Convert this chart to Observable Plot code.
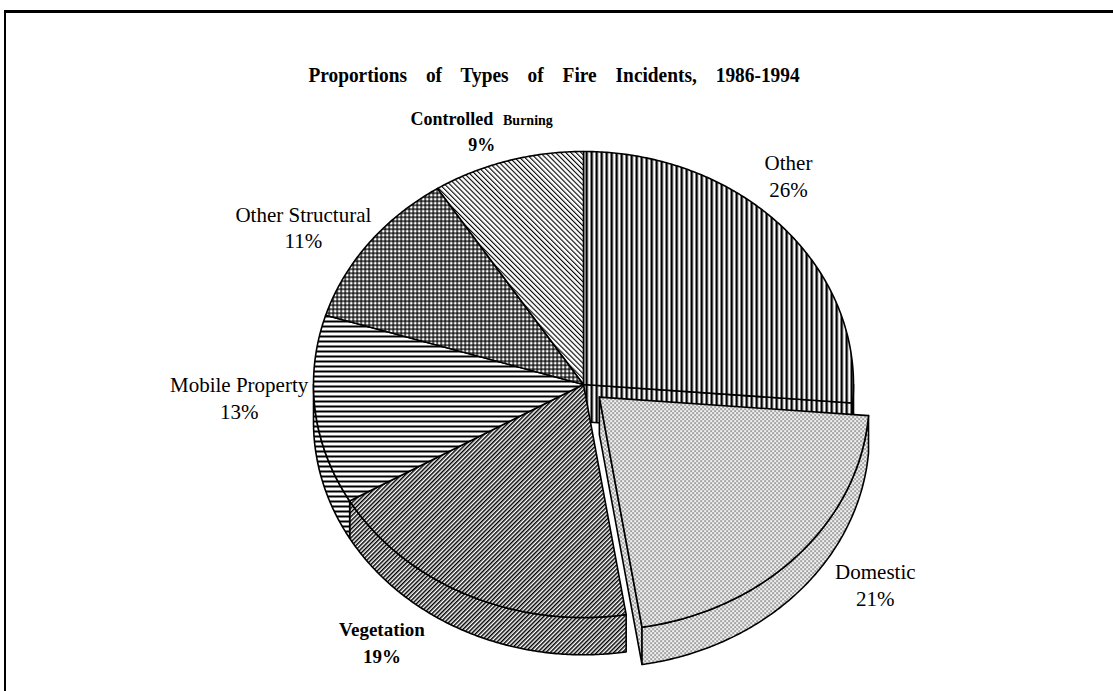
<!DOCTYPE html>
<html><head><meta charset="utf-8">
<script src="https://cdn.jsdelivr.net/npm/d3@7"></script>
<script src="https://cdn.jsdelivr.net/npm/@observablehq/plot@0.6"></script>
<style>
html,body{margin:0;padding:0;background:#fff;}
#wrap{position:relative;width:1113px;height:691px;overflow:hidden;}
#frame{position:absolute;left:4px;top:10px;right:-5px;bottom:-5px;border-top:3px solid #000;border-left:2px solid #000;}
#title{position:absolute;left:0;width:1108px;top:63px;text-align:center;font-family:"Liberation Serif",serif;font-weight:bold;font-size:22px;line-height:24px;word-spacing:16px;transform:scaleX(0.88);transform-origin:554px 0;white-space:nowrap;}
#chart{position:absolute;left:0;top:0;}
</style></head><body>
<div id="wrap"><div id="frame"></div><div id="title"></div><div id="chart"></div></div>
<script>
// ---- data ----
const title = "Proportions of Types of Fire Incidents, 1986-1994";
const categories = ["Other", "Domestic", "Vegetation", "Mobile Property", "Other Structural", "Controlled Burning"];
const percents = [26, 21, 19, 13, 11, 9];
const explodedCategories = ["Domestic"];

// ---- styles / layout ----
const patternOf = {
  "Other": "url(#pOther)",
  "Domestic": "url(#pDomestic)",
  "Vegetation": "url(#pVegetation)",
  "Mobile Property": "url(#pMobile)",
  "Other Structural": "url(#pStruct)",
  "Controlled Burning": "url(#pBurn)"
};
const boldLabels = ["Vegetation", "Controlled Burning"];
const labelNudge = { // pixels
  "Other": [-37, -17], "Domestic": [34, -6], "Vegetation": [-60, 0],
  "Mobile Property": [-17, -19], "Other Structural": [-18, 14], "Controlled Burning": [-9, 18]
};
const W = 1113, H = 691, CX = 583, CY = 384, RX = 270, RY = 233;
const DEPTH = 0.16, EXPLODE = 0.08, LABEL_R = 1.22;

document.getElementById("title").textContent = title;

const data = categories.map((c, i) => ({name: c, value: percents[i]}));
const arcs = d3.pie().sort(null).value(d => d.value).startAngle(0).endAngle(2 * Math.PI)(data);

const P = (a, r = 1) => [r * Math.sin(a), -r * Math.cos(a)];
const step = Math.PI / 360;
function arcPts(a0, a1, off, dy = 0) {
  const pts = [];
  const n = Math.max(2, Math.ceil(Math.abs(a1 - a0) / step));
  for (let k = 0; k <= n; k++) {
    const a = a0 + (a1 - a0) * k / n;
    const [u, v] = P(a);
    pts.push([u + off[0], v + off[1] + dy]);
  }
  return pts;
}
const polys = [];
let pid = 0;
function addPoly(name, pts) {
  const id = pid++;
  pts.forEach(([x, y]) => polys.push({id, name, x, y, pat: patternOf[name]}));
}
const offsetOf = a => {
  if (!explodedCategories.includes(a.data.name)) return [0, 0];
  const m = (a.startAngle + a.endAngle) / 2;
  const [u, v] = P(m, EXPLODE);
  return [u, v];
};
function radialWall(a, ang, off) {
  const [u, v] = P(ang);
  addPoly(a.data.name, [[off[0], off[1]], [u + off[0], v + off[1]], [u + off[0], v + off[1] + DEPTH], [off[0], off[1] + DEPTH]]);
}
function sideWalls(a, off) {
  const b0 = Math.max(a.startAngle, Math.PI / 2), b1 = Math.min(a.endAngle, 3 * Math.PI / 2);
  if (b1 > b0) addPoly(a.data.name, [...arcPts(b0, b1, off), ...arcPts(b1, b0, off, DEPTH)]);
}
function topFace(a, off) {
  addPoly(a.data.name, [[off[0], off[1]], ...arcPts(a.startAngle, a.endAngle, off)]);
}
const isEx = a => explodedCategories.includes(a.data.name);
const n = arcs.length;
const normal = arcs.filter(a => !isEx(a)), ex = arcs.filter(isEx);
// back layer: exposed radial walls of neighbours of exploded slices
arcs.forEach((a, i) => {
  if (isEx(a)) return;
  const next = arcs[(i + 1) % n], prev = arcs[(i - 1 + n) % n];
  if (isEx(next) && Math.sin(a.endAngle) > 0) radialWall(a, a.endAngle, [0, 0]);
  if (isEx(prev) && -Math.sin(a.startAngle) > 0) radialWall(a, a.startAngle, [0, 0]);
});
normal.forEach(a => sideWalls(a, [0, 0]));
normal.forEach(a => topFace(a, [0, 0]));
ex.forEach(a => {
  const off = offsetOf(a);
  if (Math.sin(a.endAngle) > 0) radialWall(a, a.endAngle, off);
  if (-Math.sin(a.startAngle) > 0) radialWall(a, a.startAngle, off);
  sideWalls(a, off);
  topFace(a, off);
});

// labels
const labels = arcs.map(a => {
  const m = (a.startAngle + a.endAngle) / 2;
  const off = offsetOf(a);
  const [u, v] = P(m, LABEL_R);
  const nd = labelNudge[a.data.name];
  return {name: a.data.name, x: u + off[0] + nd[0] / RX, y: v + off[1] + nd[1] / RY,
          text: a.data.name + "\n" + a.data.value + "%"};
});

const chart = Plot.plot({
  width: W, height: H, margin: 0,
  x: {domain: [-CX / RX, (W - CX) / RX], range: [0, W], axis: null},
  y: {domain: [-CY / RY, (H - CY) / RY], range: [0, H], axis: null},
  color: {type: "identity"},
  style: {background: "transparent", overflow: "visible"},
  marks: [
    Plot.line(polys, {x: "x", y: "y", z: "id", fill: "pat", stroke: "#000", strokeWidth: 1.6, curve: "linear-closed", strokeLinejoin: "round"}),
    Plot.text(labels.filter(d => !boldLabels.includes(d.name)), {x: "x", y: "y", text: "text", textAnchor: "middle", lineAnchor: "middle", fontFamily: "Liberation Serif", fontSize: 21, lineHeight: 1.28, fill: "#000"}),
    Plot.text(labels.filter(d => d.name === "Vegetation"), {x: "x", y: "y", text: "text", textAnchor: "middle", lineAnchor: "middle", fontFamily: "Liberation Serif", fontWeight: "bold", fontSize: 19, lineHeight: 1.42, fill: "#000"}),
    Plot.text(labels.filter(d => d.name === "Controlled Burning"), {x: "x", y: "y", text: "text", textAnchor: "middle", lineAnchor: "middle", fontFamily: "Liberation Serif", fontWeight: "bold", fontSize: 18, lineHeight: 1.45, fill: "#000"})
  ]
});

const defs = `<defs>
<pattern id="pOther" patternUnits="userSpaceOnUse" width="5" height="10"><rect width="5" height="10" fill="#fff"/><rect x="0" width="2.4" height="10" fill="#000"/></pattern>
<pattern id="pDomestic" patternUnits="userSpaceOnUse" width="4" height="4"><rect width="4" height="4" fill="#f2f2f2"/><rect x="0" y="0" width="1.2" height="1.2" fill="#111"/><rect x="2" y="2" width="1.2" height="1.2" fill="#111"/></pattern>
<pattern id="pVegetation" patternUnits="userSpaceOnUse" width="3" height="10" patternTransform="rotate(45)"><rect width="3" height="10" fill="#fff"/><rect width="1.5" height="10" fill="#000"/></pattern>
<pattern id="pMobile" patternUnits="userSpaceOnUse" width="10" height="5"><rect width="10" height="5" fill="#fff"/><rect width="10" height="2" fill="#000"/></pattern>
<pattern id="pStruct" patternUnits="userSpaceOnUse" width="4" height="4"><rect width="4" height="4" fill="#fff"/><rect width="4" height="1.3" fill="#000"/><rect width="1.3" height="4" fill="#000"/></pattern>
<pattern id="pBurn" patternUnits="userSpaceOnUse" width="3.6" height="10" patternTransform="rotate(-45)"><rect width="3.6" height="10" fill="#fff"/><rect width="1.1" height="10" fill="#000"/></pattern>
</defs>`;
chart.insertAdjacentHTML("afterbegin", defs);

// mixed-size "Controlled Burning" label
d3.select(chart).selectAll("tspan").each(function() {
  if (this.textContent === "Controlled Burning") {
    this.textContent = "Controlled";
    const t = document.createElementNS("http://www.w3.org/2000/svg", "tspan");
    t.setAttribute("font-size", "14");
    t.textContent = "\u2002\u2009Burning";
    this.appendChild(t);
  }
});
document.getElementById("chart").appendChild(chart);
</script>
</body></html>
